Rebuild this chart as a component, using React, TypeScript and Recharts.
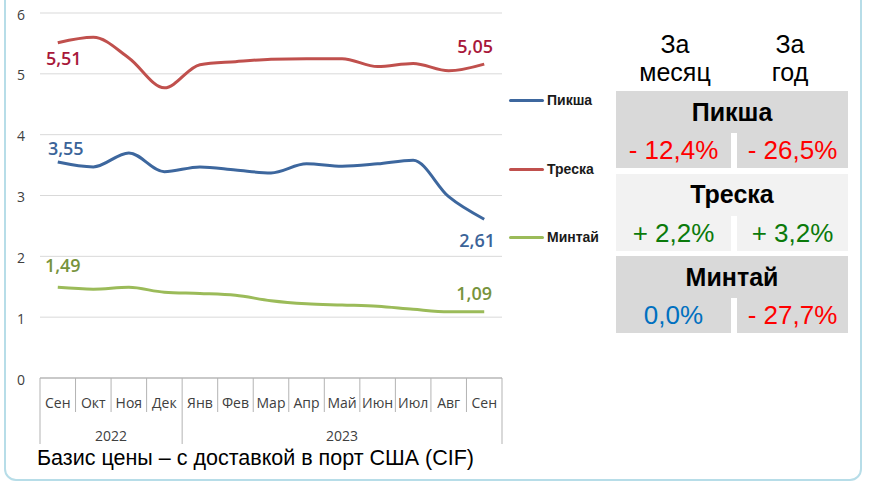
import React from 'react';
import { LineChart, Line, XAxis, YAxis, CartesianGrid, LabelList } from 'recharts';

// months on the axis, and the years they belong to
const months = ['Сен', 'Окт', 'Ноя', 'Дек', 'Янв', 'Фев', 'Мар', 'Апр', 'Май', 'Июн', 'Июл', 'Авг', 'Сен'];
const yearLabels = ['2022', '2023'];
const yearSpans = [4, 9];
const yTicks = [0, 1, 2, 3, 4, 5, 6];

// prices
const haddock = [3.55, 3.47, 3.7, 3.39, 3.47, 3.42, 3.37, 3.52, 3.48, 3.52, 3.58, 2.98, 2.61];
const cod = [5.51, 5.6, 5.26, 4.77, 5.15, 5.2, 5.24, 5.25, 5.25, 5.12, 5.17, 5.05, 5.16];
const pollock = [1.49, 1.46, 1.49, 1.41, 1.39, 1.36, 1.27, 1.22, 1.2, 1.18, 1.13, 1.09, 1.09];

// end labels (first / last point)
const haddockLabels = ['3,55', '2,61'];
const codLabels = ['5,51', '5,05'];
const pollockLabels = ['1,49', '1,09'];

// table on the right
const tableHeaders = ['За\nмесяц', 'За\nгод'];
const tableSpecies = ['Пикша', 'Треска', 'Минтай'];
const monthChange = ['- 12,4%', '+ 2,2%', '0,0%'];
const yearChange = ['- 26,5%', '+ 3,2%', '- 27,7%'];

const caption = 'Базис цены – с доставкой в порт США (CIF)';

const data = months.map((m, i) => ({
  month: m,
  haddock: haddock[i],
  cod: cod[i],
  pollock: pollock[i],
}));

const series = [
  { key: 'haddock', name: 'Пикша', color: '#3d679e', labelColor: '#3b6499', labels: haddockLabels, offsets: [[8, -14], [-7, 21]], legendY: 100 },
  { key: 'cod', name: 'Треска', color: '#c0504d', labelColor: '#a8173a', labels: codLabels, offsets: [[6, 15], [-9, -18]], legendY: 169 },
  { key: 'pollock', name: 'Минтай', color: '#9bbb59', labelColor: '#77933c', labels: pollockLabels, offsets: [[5, -22], [-10, -19]], legendY: 237 },
];

const W = 874;
const H = 483;
const PLOT_LEFT = 40;
const PLOT_RIGHT = 502;
const PLOT_TOP = 13;
const PLOT_BOTTOM = 378;
const BAND = (PLOT_RIGHT - PLOT_LEFT) / months.length;
const AXIS_FONT = '"Open Sans", sans-serif';
const ARIAL = '"Liberation Sans", Arial, sans-serif';
const SEP = '#b3b3b3';

const yearStarts = yearSpans.map((_, i) => yearSpans.slice(0, i).reduce((a, b) => a + b, 0));

const MonthTick = (props: any) => {
  const { x, payload } = props;
  const i = payload.index;
  const left = x - BAND / 2;
  const g = yearStarts.indexOf(i);
  const isLast = i === months.length - 1;
  return (
    <g>
      <text x={x} y={402} textAnchor="middle" dominantBaseline="central" fontSize={14} fill="#404040" fontFamily={AXIS_FONT}>
        {payload.value}
      </text>
      <line x1={left} x2={left} y1={PLOT_BOTTOM} y2={g >= 0 ? 444 : 412} stroke={SEP} />
      {isLast && <line x1={x + BAND / 2} x2={x + BAND / 2} y1={PLOT_BOTTOM} y2={444} stroke={SEP} />}
      {g >= 0 && (
        <text x={left + (yearSpans[g] * BAND) / 2} y={435} textAnchor="middle" dominantBaseline="central" fontSize={14} fill="#404040" fontFamily={AXIS_FONT}>
          {yearLabels[g]}
        </text>
      )}
    </g>
  );
};

const ValueTick = (props: any) => (
  <text x={25} y={props.y + 1} textAnchor="end" dominantBaseline="central" fontSize={14} fill="#404040" fontFamily={AXIS_FONT}>
    {props.payload.value}
  </text>
);

const makeLabel = (s: any) => (props: any) => {
  const { x, y, index } = props;
  if (index !== 0 && index !== months.length - 1) return null;
  const k = index === 0 ? 0 : 1;
  const [dx, dy] = s.offsets[k];
  return (
    <text x={x + dx} y={y + dy} textAnchor="middle" dominantBaseline="central" fill={s.labelColor} fontSize={18} fontWeight={600} fontFamily={AXIS_FONT}>
      {s.labels[k]}
    </text>
  );
};

const changeColor = (t: string) => (t.startsWith('-') ? '#ff0000' : t.startsWith('+') ? '#0b7a0b' : '#0070c0');

const blockBg = ['#d9d9d9', '#f2f2f2', '#d9d9d9'];

export default function App() {
  return (
    <div style={{ position: 'absolute', left: 0, top: 0, width: W, height: H, overflow: 'hidden', background: '#fff' }}>
      <div
        style={{
          position: 'absolute', left: 4, top: -20, width: 858, height: 501, boxSizing: 'border-box',
          border: '2px solid #b7dde8', borderRadius: 12,
        }}
      />
      <div style={{ position: 'absolute', left: 0, top: 0 }}>
        <LineChart width={W} height={H} data={data} margin={{ top: PLOT_TOP, right: W - PLOT_RIGHT, bottom: 0, left: 0 }}>
          <CartesianGrid vertical={false} stroke="#d9d9d9" />
          <XAxis
            dataKey="month"
            height={H - PLOT_BOTTOM}
            interval={0}
            padding={{ left: BAND / 2, right: BAND / 2 }}
            tickLine={false}
            axisLine={{ stroke: '#a6a6a6' }}
            tick={<MonthTick />}
          />
          <YAxis width={PLOT_LEFT} domain={[0, 6]} ticks={yTicks} axisLine={false} tickLine={false} tick={<ValueTick />} />
          {series.map((s) => (
            <Line
              key={s.key}
              dataKey={s.key}
              name={s.name}
              type="monotone"
              stroke={s.color}
              strokeWidth={3}
              dot={false}
              activeDot={false}
              isAnimationActive={false}
            >
              <LabelList dataKey={s.key} content={makeLabel(s)} />
            </Line>
          ))}
        </LineChart>
      </div>

      {/* legend */}
      {series.map((s) => (
        <div key={s.key} style={{ position: 'absolute', left: 509, top: s.legendY - 10, height: 20, display: 'flex', alignItems: 'center' }}>
          <div style={{ width: 35, height: 3, background: s.color, borderRadius: 2 }} />
          <span style={{ marginLeft: 3, fontFamily: ARIAL, fontWeight: 700, fontSize: 14, color: '#1a1a1a' }}>{s.name}</span>
        </div>
      ))}

      {/* table headers */}
      {tableHeaders.map((h, i) => (
        <div
          key={h}
          style={{
            position: 'absolute', left: (i === 0 ? 675 : 790) - 60, top: 30, width: 120, textAlign: 'center',
            fontFamily: ARIAL, fontSize: 25, lineHeight: '28px', whiteSpace: 'pre-line', color: '#000',
          }}
        >
          {h}
        </div>
      ))}

      {/* table blocks */}
      {tableSpecies.map((name, i) => {
        const top = 91 + i * 82.5;
        const bg = blockBg[i];
        const cell = { position: 'absolute' as const, display: 'flex', alignItems: 'center', justifyContent: 'center', fontFamily: ARIAL, background: bg };
        return (
          <React.Fragment key={name}>
            <div style={{ ...cell, left: 616, top, width: 232, height: 42, fontSize: 25, fontWeight: 700, color: '#000' }}>{name}</div>
            <div style={{ ...cell, left: 616, top: top + 42, width: 115, height: 35, fontSize: 26, color: changeColor(monthChange[i]) }}>
              {monthChange[i]}
            </div>
            <div style={{ ...cell, left: 737, top: top + 42, width: 111, height: 35, fontSize: 26, color: changeColor(yearChange[i]) }}>
              {yearChange[i]}
            </div>
          </React.Fragment>
        );
      })}

      <div style={{ position: 'absolute', left: 37, top: 446, fontFamily: ARIAL, fontSize: 21.5, lineHeight: '24px', color: '#000', whiteSpace: 'nowrap' }}>
        {caption}
      </div>
    </div>
  );
}
